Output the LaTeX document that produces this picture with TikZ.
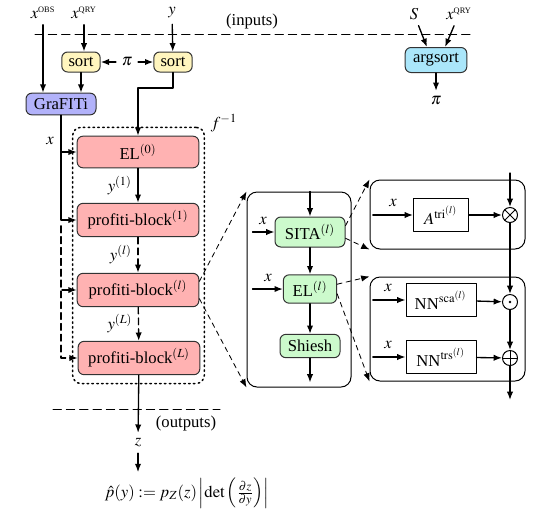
\documentclass[tikz,border=0pt]{standalone}
\usepackage{amsmath}
\usepackage{mathptmx}
\usepackage{fontspec}
\setmainfont{Liberation Serif}
\usetikzlibrary{arrows.meta,fit}
\definecolor{flowred}{RGB}{255,178,178}
\definecolor{blockgreen}{RGB}{204,250,204}
\definecolor{grafblue}{RGB}{178,178,250}
\definecolor{sortyellow}{RGB}{255,245,190}
\definecolor{argcyan}{RGB}{170,230,250}
\begin{document}
\begin{tikzpicture}[x=0.6pt,y=-0.6pt,line cap=round,line join=round,
  >={Latex[length=5pt,width=3.8pt]},
  box/.style={draw=black!80,rounded corners=3.5pt,line width=0.6pt,inner sep=0pt},
  sortbox/.style={box,fill=sortyellow,minimum width=23pt,minimum height=12pt},
  flowbox/.style={box,fill=flowred,minimum width=73pt,minimum height=19pt},
  blockbox/.style={box,fill=blockgreen,minimum height=17pt,inner xsep=3pt},
  plainbox/.style={draw,line width=0.6pt,minimum width=42pt,minimum height=20pt},
  frame/.style={draw,rounded corners=6pt,line width=0.6pt,inner sep=0pt},
  opnode/.style={circle,draw,line width=0.6pt,minimum size=9pt,inner sep=0pt},
  otimes/.style={opnode,path picture={\draw (path picture bounding box.north west) -- (path picture bounding box.south east) (path picture bounding box.north east) -- (path picture bounding box.south west);}},
  oplus/.style={opnode,path picture={\draw (path picture bounding box.north) -- (path picture bounding box.south) (path picture bounding box.west) -- (path picture bounding box.east);}},
  odot/.style={opnode,path picture={\fill (path picture bounding box.center) circle[radius=0.8pt];}},
  link/.style={->,line width=0.8pt},
  proj/.style={->,dash pattern=on 3pt off 2.5pt,line width=0.5pt},
  sep/.style={dash pattern=on 5pt off 3pt,line width=0.6pt}]
  \useasboundingbox (0,0) rectangle (554,529);
  \node (xobs) at (43,13) {$x^{\text{\tiny OBS}}$};
  \node (xqry) at (84,13) {$x^{\text{\tiny QRY}}$};
  \node (yin) at (172,13) {$y$};
  \node (inputs) at (252,21) {(inputs)};
  \node (S) at (414,14) {$S$};
  \node (xqrys) at (459,14) {$x^{\text{\tiny QRY}}$};
  \draw[sep] (35,34) -- (470,34);
  \node[sortbox] (sortx) at (81,62) {sort};
  \node[sortbox] (sorty) at (173,62) {sort};
  \node (pi) at (127,62) {$\pi$};
  \node[box,fill=grafblue,minimum width=42pt,minimum height=13pt] (grafiti) at (61,104) {GraFITi};
  \node[box,fill=argcyan,minimum width=37pt,minimum height=15pt] (argsort) at (436,60) {argsort};
  \node (pis) at (436,101) {$\pi$};
  \draw[link] (xobs) -- (xobs |- grafiti.north);
  \draw[link] (xqry) -- (xqry |- sortx.north);
  \draw[link] (yin) -- (sorty);
  \draw[link] (sortx) -- (sortx |- grafiti.north);
  \draw[link] (pi) -- (sortx);
  \draw[link] (pi) -- (sorty);
  \draw[link] (S) -- (argsort.125);
  \draw[link] (xqrys) -- (argsort.55);
  \draw[link] (argsort) -- (pis);
  \node[flowbox] (el0) at (138,152) {EL$^{(0)}$};
  \node[flowbox,minimum height=20pt] (pb1) at (138,220) {profiti-block$^{(1)}$};
  \node[flowbox,minimum height=20pt] (pbl) at (138,290) {profiti-block$^{(l)}$};
  \node[flowbox,minimum height=20pt] (pbL) at (139,358) {profiti-block$^{(L)}$};
  \node[draw,dotted,line width=0.9pt,rounded corners=5pt,inner xsep=2.4pt,inner ysep=5pt,fit=(el0)(pbL)] (flow) {};
  \node (finv) at (224,123) {$f^{-1}$};
  \draw[link] (sorty) -- ++(0,26) -| (el0);
  \draw[link] (grafiti) |- (el0);
  \draw[link] (grafiti) |- (pb1);
  \node (xg) at (50,141) {$x$};
  \coordinate (xrail) at (61,226);
  \draw[link,dash pattern=on 4pt off 2.5pt] (xrail) |- (pbl);
  \draw[link,dash pattern=on 4pt off 2.5pt] (xrail) |- (pbL);
  \draw[link] (el0) -- node[left] {$y^{(1)}$} (pb1);
  \draw[link,dash pattern=on 4pt off 2.5pt] (pb1) -- node[left] {$y^{(l)}$} (pbl);
  \draw[link,dash pattern=on 4pt off 2.5pt] (pbl) -- node[left] {$y^{(L)}$} (pbL);
  \node (z) at (138,443) {$z$};
  \draw[link] (pbL) -- (z);
  \draw[sep] (53,409) -- (220,409);
  \node (outputs) at (186,423) {(outputs)};
  \node (dens) at (187,493) {$\hat{p}(y) := p_Z(z)\left|\det\left(\frac{\partial z}{\partial y}\right)\right|$};
  \draw[link] (z) -- (z |- dens.north);
  \node[frame,fit={(247,192) (351,387)}] (blk) {};
  \node[blockbox,minimum width=42pt,minimum height=18pt] (sita) at (310,232) {SITA$^{(l)}$};
  \node[blockbox,minimum width=32pt] (el) at (310,289) {EL$^{(l)}$};
  \node[blockbox,minimum width=36pt,minimum height=14pt] (shiesh) at (310,346) {Shiesh};
  \node (xsita) at (263,221) {$x$};
  \node (xel) at (268,278) {$x$};
  \draw[link] (blk.north -| sita) -- (sita);
  \draw[link] ([xshift=3.6pt]blk.west |- sita) -- (sita);
  \draw[link] (sita) -- (el);
  \draw[link] ([xshift=3.6pt]blk.west |- el) -- (el);
  \draw[link] (el) -- (shiesh);
  \draw[link] (shiesh) -- ([yshift=3pt]blk.south -| shiesh);
  \draw[proj] (pbl.8) -- (blk.north west);
  \draw[proj] (pbl.-8) -- (blk.south west);
  \node[frame,fit={(370,180) (525,249)}] (atbox) {};
  \node[frame,fit={(370,277) (525,381)}] (nnbox) {};
  \draw[proj] (sita.10) -- (atbox.north west);
  \draw[proj] (sita.-10) -- (atbox.south west);
  \draw[proj] (el.10) -- (nnbox.north west);
  \draw[proj] (el.-10) -- (nnbox.south west);
  \node[plainbox,minimum width=33pt] (atri) at (441,215) {$A^{\mathrm{tri}^{(l)}}$};
  \node[plainbox] (nnsca) at (441,300) {NN$^{\mathrm{sca}^{(l)}}$};
  \node[plainbox] (nntrs) at (441,357) {NN$^{\mathrm{trs}^{(l)}}$};
  \node[otimes] (mul) at (510,215) {};
  \node[odot] (had) at (510,302) {};
  \node[oplus] (add) at (510,358) {};
  \node (xatri) at (393,203) {$x$};
  \node (xsca) at (388,288) {$x$};
  \node (xtrs) at (388,345) {$x$};
  \coordinate (ztop) at (510,173);
  \coordinate (zend) at (510,400);
  \draw[link] ([xshift=2pt]atbox.west |- atri) -- (atri);
  \draw[link] ([xshift=2pt]nnbox.west |- nnsca) -- (nnsca);
  \draw[link] ([xshift=2pt]nnbox.west |- nntrs) -- (nntrs);
  \draw[link] (atri) -- (mul);
  \draw[link] (nnsca) -- (had);
  \draw[link] (nntrs) -- (add);
  \draw[link] (ztop) -- (mul);
  \draw[link] (mul) -- (had);
  \draw[link] (had) -- (add);
  \draw[link] (add) -- (zend);
 \end{tikzpicture}
\end{document}
